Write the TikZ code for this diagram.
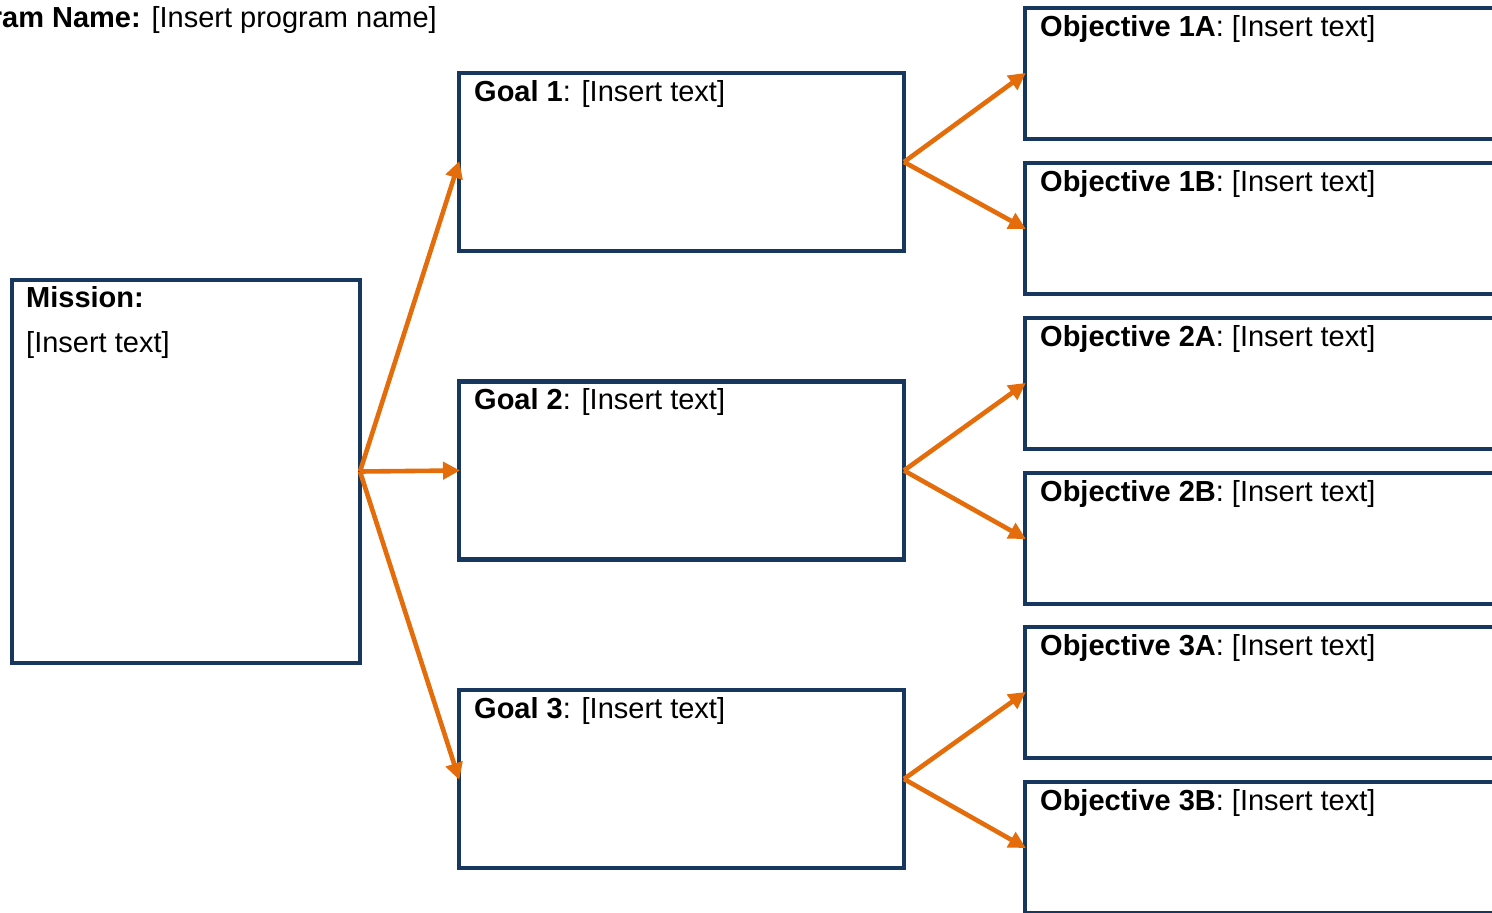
\documentclass[tikz,border=0pt]{standalone}
\usepackage{fontspec}
\setmainfont{Liberation Sans}
\usetikzlibrary{arrows.meta}
\definecolor{navy}{RGB}{23,55,94}
\definecolor{arrorange}{RGB}{228,108,10}
\begin{document}
\begin{tikzpicture}[x=1pt,y=-1pt,
  box/.style={draw=navy,line width=4.6pt,fill=white,inner sep=0pt,outer sep=0pt,rectangle},
  lbl/.style={anchor=base west,inner sep=0pt,font=\fontsize{29}{34}\selectfont},
  conn/.style={draw=arrorange,line width=4.6pt,-{Triangle[length=17pt,width=17pt]},shorten >=-1pt}
]
\useasboundingbox (0,0) rectangle (1492,913);
\clip (0,0) rectangle (1492,913);
% title
\node[anchor=base east,inner sep=0pt,font=\fontsize{29}{34}\selectfont] (title) at (437,27) {\textbf{Program Name:} [Insert program name]};
% mission
\node[box,minimum width=348pt,minimum height=383pt] (mission) at (186,471.5) {};
\node[lbl] (missiont) at (26,307) {\textbf{Mission:}};
\node[lbl] (missiont2) at (26,352) {[Insert text]};
% goals
\node[box,minimum width=445pt,minimum height=178pt] (g1) at (681.5,162) {};
\node[box,minimum width=445pt,minimum height=178pt] (g2) at (681.5,470.5) {};
\node[box,minimum width=445pt,minimum height=178pt] (g3) at (681.5,779) {};
\node[lbl] (g1t) at (474,101) {\textbf{Goal 1}: [Insert text]};
\node[lbl] (g2t) at (474,409.5) {\textbf{Goal 2}: [Insert text]};
\node[lbl] (g3t) at (474,718) {\textbf{Goal 3}: [Insert text]};
% objectives
\foreach \n/\y in {o1a/73.5,o1b/228.5,o2a/383.5,o2b/538.5,o3a/692.5,o3b/847.5}{
  \node[box,minimum width=560pt,minimum height=131pt,anchor=west] (\n) at (1025,\y) {};
}
\node[lbl] (o1at) at (1040,36) {\textbf{Objective 1A}: [Insert text]};
\node[lbl] (o1bt) at (1040,191) {\textbf{Objective 1B}: [Insert text]};
\node[lbl] (o2at) at (1040,346) {\textbf{Objective 2A}: [Insert text]};
\node[lbl] (o2bt) at (1040,501) {\textbf{Objective 2B}: [Insert text]};
\node[lbl] (o3at) at (1040,655) {\textbf{Objective 3A}: [Insert text]};
\node[lbl] (o3bt) at (1040,810) {\textbf{Objective 3B}: [Insert text]};
% connectors
\draw[conn] (mission.east) -- (g1.west);
\draw[conn] (mission.east) -- (g2.west);
\draw[conn] (mission.east) -- (g3.west);
\draw[conn] (g1.east) -- (o1a.west);
\draw[conn] (g1.east) -- (o1b.west);
\draw[conn] (g2.east) -- (o2a.west);
\draw[conn] (g2.east) -- (o2b.west);
\draw[conn] (g3.east) -- (o3a.west);
\draw[conn] (g3.east) -- (o3b.west);
\end{tikzpicture}
\end{document}
